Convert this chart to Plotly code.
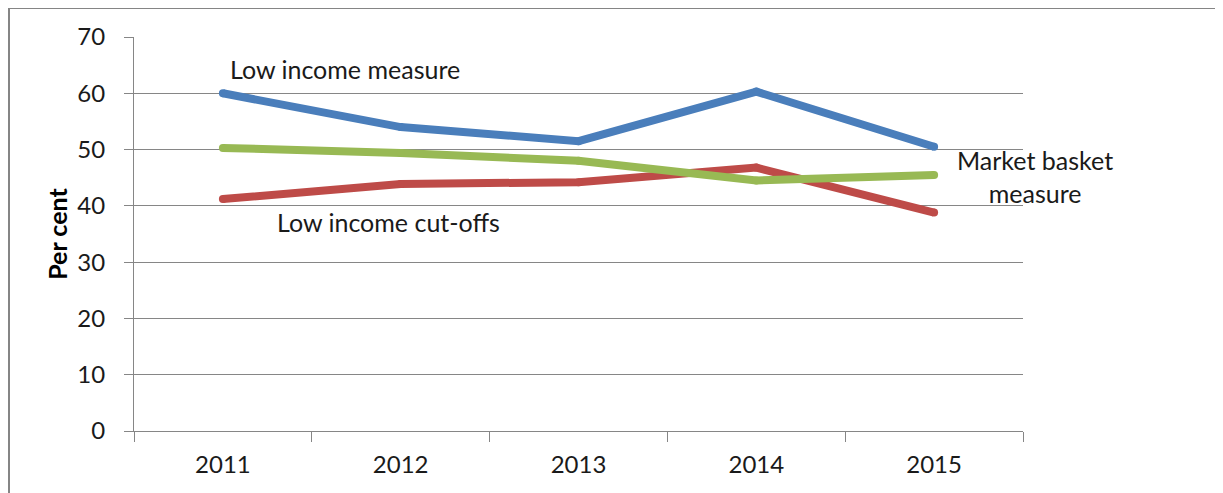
import plotly.graph_objects as go

years = ["2011", "2012", "2013", "2014", "2015"]
low_income_measure = [60.0, 54.0, 51.5, 60.3, 50.5]
market_basket_measure = [50.3, 49.4, 48.0, 44.5, 45.5]
low_income_cutoffs = [41.2, 43.9, 44.2, 46.8, 38.8]

# page has an 8px body margin
W, H = 1215, 485
L, R, T, B = 126, 200, 29, 62
FONT = "Lato"

fig = go.Figure()
series = [
    (low_income_measure, "#4A7EBB"),
    (low_income_cutoffs, "#BE4B48"),
    (market_basket_measure, "#98B954"),
]
for vals, col in series:
    fig.add_trace(go.Scatter(
        x=years, y=vals, mode="lines+markers",
        line=dict(color=col, width=8),
        marker=dict(color=col, size=8, line=dict(width=0)),
        showlegend=False, hoverinfo="skip"))

pw = W - L - R
ph = H - T - B
fx = lambda px: (px - L) / pw
fy = lambda py: (H - B - py) / ph

shapes = [
    dict(type="line", xref="paper", yref="paper", x0=fx(0), x1=fx(W + 5), y0=fy(0), y1=fy(0),
         line=dict(color="#858585", width=2)),
    dict(type="line", xref="paper", yref="paper", x0=fx(1), x1=fx(1), y0=fy(0), y1=fy(H + 5),
         line=dict(color="#858585", width=2)),
]

afont = dict(family=FONT, size=25, color="#1a1a1a")
common = dict(showarrow=False, xanchor="center", yanchor="middle", align="center", font=afont)
annotations = [
    dict(xref="x", yref="y", x=0.687, y=64.3, text="Low income measure", **common),
    dict(xref="x", yref="y", x=0.934, y=37.1, text="Low income cut-offs", **common),
    dict(xref="paper", yref="paper", x=fx(1027), y=fy(168), text="Market basket<br>measure", **common),
]

fig.update_layout(
    width=W, height=H,
    margin=dict(l=L, r=R, t=T, b=B),
    paper_bgcolor="white", plot_bgcolor="white",
    shapes=shapes, annotations=annotations,
    font=dict(family=FONT, size=24, color="#1a1a1a"),
    xaxis=dict(type="category", range=[-0.5, 4.5], showgrid=False,
               showline=True, linecolor="#868686", linewidth=1,
               ticks="outside", tickson="boundaries", ticklen=10, tickcolor="#868686",
               ticklabelstandoff=12, tickfont=dict(family=FONT, size=24, color="#1a1a1a")),
    yaxis=dict(range=[0, 70], dtick=10, showgrid=True, gridcolor="#868686", gridwidth=1,
               showline=True, linecolor="#868686", linewidth=1, zeroline=False,
               ticks="outside", ticklen=9, tickcolor="#868686",
               ticklabelstandoff=14, tickfont=dict(family=FONT, size=24, color="#1a1a1a"),
               title=dict(text="<b>Per cent</b>", standoff=2,
                          font=dict(family=FONT, size=25, color="#000"))),
)

fig.write_html("out.html")
